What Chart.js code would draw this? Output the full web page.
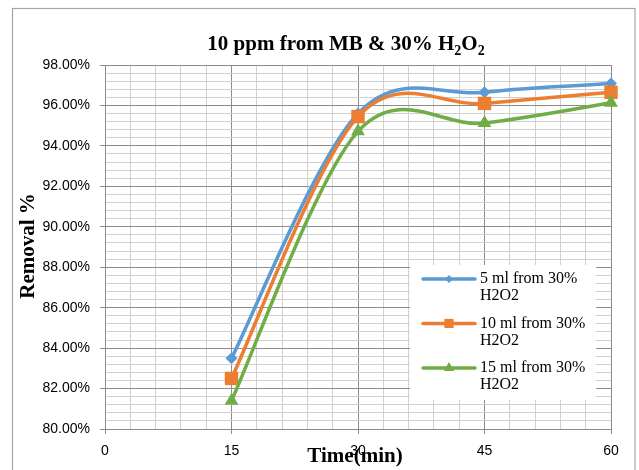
<!DOCTYPE html>
<html>
<head>
<meta charset="utf-8">
<script src="https://cdn.jsdelivr.net/npm/chart.js@4"></script>
<style>
html,body{margin:0;padding:0;background:#fff;}
#wrap{width:639px;height:470px;position:relative;}
</style>
</head>
<body>
<div id="wrap"><canvas id="c" width="639" height="470"></canvas></div>
<script>
// ---- data ----
const timeMin = [15, 30, 45, 60];
const ml5 = [83.5, 95.6, 96.65, 97.08];
const ml10 = [82.5, 95.45, 96.1, 96.65];
const ml15 = [81.4, 94.72, 95.13, 96.13];
const seriesLabels = ['5 ml from 30% H2O2', '10 ml from 30% H2O2', '15 ml from 30% H2O2'];
const xTickLabels = ['0', '15', '30', '45', '60'];
const yMin = 80, yMax = 98;

const colors = ['#5B9BD5', '#ED7D31', '#70AD47'];
const markers = ['rectRot', 'rect', 'triangle'];
const markerR = [6, 9.5, 8];
const seriesData = [ml5, ml10, ml15];

const datasets = seriesData.map((vals, i) => ({
  label: seriesLabels[i],
  data: timeMin.map((t, j) => ({x: t, y: vals[j]})),
  borderColor: colors[i],
  backgroundColor: colors[i],
  borderWidth: 3.5,
  pointStyle: markers[i],
  pointRadius: markerR[i],
  pointBorderWidth: 0,
  pointBackgroundColor: colors[i],
  tension: 0.4,
  order: 3 - i,
  clip: false
}));

const majorGrid = '#8c8c8c';
const minorGrid = '#d0d0d0';
const isYMajor = v => Math.abs(v / 2 - Math.round(v / 2)) < 1e-6;
const isXMajor = v => Math.abs(v / 15 - Math.round(v / 15)) < 1e-6;

// Excel-like (Catmull-Rom) smoothing of the library's line element control points
const excelSmooth = {
  id: 'excelSmooth',
  beforeDatasetsDraw(chart) {
    chart.getSortedVisibleDatasetMetas().forEach(meta => {
      const line = meta.dataset;
      if (!line || typeof line.updateControlPoints !== 'function') return;
      line.updateControlPoints(chart.chartArea, meta.iScale.axis);
      const pts = meta.data;
      const n = pts.length;
      for (let i = 0; i < n; i++) {
        const p = pts[i];
        const prev = pts[Math.max(0, i - 1)];
        const next = pts[Math.min(n - 1, i + 1)];
        const dx = (next.x - prev.x) / 6;
        const dy = (next.y - prev.y) / 6;
        p.cp1x = p.x - dx; p.cp1y = p.y - dy;
        p.cp2x = p.x + dx; p.cp2y = p.y + dy;
      }
    });
  }
};

const decor = {
  id: 'decor',
  beforeDraw(chart) {
    const ctx = chart.ctx;
    ctx.save();
    ctx.fillStyle = '#fff';
    ctx.fillRect(0, 0, chart.width, chart.height);
    ctx.strokeStyle = '#a6a6a6';
    ctx.lineWidth = 1.2;
    ctx.strokeRect(12.5, 8.5, 622.5, 480);
    ctx.restore();
  },
  afterDraw(chart) {
    const ctx = chart.ctx;
    ctx.save();
    // title with subscripts
    const big = 'bold 21px "Liberation Serif"';
    const small = 'bold 14px "Liberation Serif"';
    const parts = [['10 ppm from MB & 30% H', big, 0], ['2', small, 5], ['O', big, 0], ['2', small, 5]];
    let total = 0;
    parts.forEach(p => { ctx.font = p[1]; total += ctx.measureText(p[0]).width; });
    let x = 346 - total / 2;
    ctx.fillStyle = '#000';
    ctx.textBaseline = 'alphabetic';
    ctx.textAlign = 'left';
    parts.forEach(p => { ctx.font = p[1]; ctx.fillText(p[0], x, 50 + p[2]); x += ctx.measureText(p[0]).width; });
    // axis titles
    ctx.font = 'bold 21px "Liberation Serif"';
    ctx.textAlign = 'center';
    ctx.textBaseline = 'middle';
    ctx.fillText('Time(min)', 355, 457);
    ctx.save();
    ctx.translate(29, 246);
    ctx.rotate(-Math.PI / 2);
    ctx.fillText('Removal %', 0, 0);
    ctx.restore();
    // legend
    ctx.fillStyle = '#fff';
    ctx.fillRect(410, 265, 186, 135);
    ctx.font = '16px "Liberation Serif"';
    ctx.textAlign = 'left';
    ctx.textBaseline = 'middle';
    const legR = [4, 6.5, 6];
    seriesLabels.forEach((lab, i) => {
      const y = 279 + i * 44.5;
      ctx.strokeStyle = colors[i];
      ctx.lineWidth = 3.5;
      ctx.lineCap = 'round';
      ctx.beginPath();
      ctx.moveTo(423, y);
      ctx.lineTo(475, y);
      ctx.stroke();
      ctx.fillStyle = colors[i];
      Chart.helpers.drawPoint(ctx, {pointStyle: markers[i], radius: legR[i], borderWidth: 0, rotation: 0}, 449, y);
      const k = lab.lastIndexOf(' ');
      ctx.fillStyle = '#000';
      ctx.fillText(lab.slice(0, k), 480, y);
      ctx.fillText(lab.slice(k + 1), 480, y + 17);
    });
    ctx.restore();
  }
};

new Chart(document.getElementById('c'), {
  type: 'line',
  data: {datasets},
  plugins: [excelSmooth, decor],
  options: {
    responsive: false,
    animation: false,
    devicePixelRatio: 1,
    layout: {padding: {left: 0, top: 65, right: 28, bottom: 0}},
    plugins: {legend: {display: false}, title: {display: false}, tooltip: {enabled: false}},
    scales: {
      x: {
        type: 'linear',
        min: 0, max: 60,
        afterFit(s) { s.height = 41; },
        ticks: {
          stepSize: 3,
          autoSkip: false,
          maxRotation: 0,
          padding: 9,
          color: '#000',
          font: {family: '"Liberation Sans"', size: 14},
          callback: v => isXMajor(v) ? xTickLabels[Math.round(v / 15)] : ''
        },
        grid: {
          color: c => (c.tick && isXMajor(c.tick.value)) ? majorGrid : minorGrid,
          tickColor: c => (c.tick && isXMajor(c.tick.value)) ? majorGrid : 'rgba(0,0,0,0)',
          tickLength: 5,
          lineWidth: 1
        },
        border: {color: majorGrid, width: 1}
      },
      y: {
        min: yMin, max: yMax,
        afterFit(s) { s.width = 105; },
        ticks: {
          stepSize: 0.4,
          autoSkip: false,
          padding: 10,
          color: '#000',
          font: {family: '"Liberation Sans"', size: 14},
          callback: v => isYMajor(v) ? Number(v).toFixed(2) + '%' : ''
        },
        grid: {
          color: c => (c.tick && isYMajor(c.tick.value)) ? majorGrid : minorGrid,
          tickColor: c => (c.tick && isYMajor(c.tick.value)) ? majorGrid : 'rgba(0,0,0,0)',
          tickLength: 5,
          lineWidth: 1
        },
        border: {color: majorGrid, width: 1}
      }
    }
  }
});
</script>
</body>
</html>
